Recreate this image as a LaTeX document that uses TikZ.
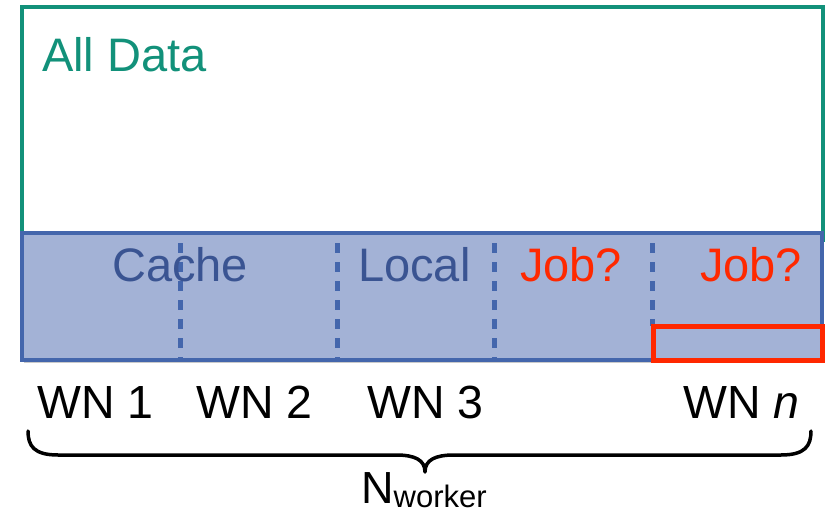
\documentclass[tikz,border=0pt]{standalone}
\usepackage{fontspec}
\setmainfont{Liberation Sans}
\usetikzlibrary{shadows}
\definecolor{teal1}{RGB}{18,145,122}
\definecolor{bandfill}{RGB}{163,178,214}
\definecolor{bandline}{RGB}{68,102,172}
\definecolor{bandtext}{RGB}{58,84,146}
\definecolor{jobred}{RGB}{255,40,0}
\tikzset{
  big/.style={font=\fontsize{47}{50}\selectfont, inner sep=0pt, anchor=base west},
  wn/.style={font=\fontsize{46.5}{48}\selectfont, inner sep=0pt, anchor=base west, text=black},
  divider/.style={draw=bandline, line width=5pt, dash pattern=on 10pt off 9pt},
  shad/.style={drop shadow={shadow xshift=2pt, shadow yshift=-3pt, opacity=0.35, fill=black!60}}
}
\begin{document}
\begin{tikzpicture}[x=1pt,y=-1pt]
\useasboundingbox (0,0) rectangle (827,513);
% all data box
\path[draw=teal1, line width=4pt, fill=white] (22,7) rectangle (823,240);
% band
\path[draw=bandline, fill=bandfill, line width=4.5pt, shad] (22,233) rectangle (822,360);
% dividers
\coordinate (d1t) at (180,243); \coordinate (d1b) at (180,360);
\coordinate (d2t) at (337,243); \coordinate (d2b) at (337,360);
\coordinate (d3t) at (494,243); \coordinate (d3b) at (494,360);
\coordinate (d4t) at (652,243); \coordinate (d4b) at (652,326);
\draw[divider] (d1t) -- (d1b);
\draw[divider] (d2t) -- (d2b);
\draw[divider] (d3t) -- (d3b);
\draw[divider] (d4t) -- (d4b);
% red box
\draw[draw=jobred, line width=5pt] (653,326) rectangle (822,360);
% texts
\node[big, text=teal1] (alldata) at (42,72) {All Data};
\node[big, text=bandtext] (cache) at (112,281) {Cache};
\node[big, text=bandtext] (local) at (358,281) {Local};
\node[big, text=jobred] (job1) at (520,281) {Job?};
\node[big, text=jobred] (job2) at (700,281) {Job?};
\node[wn] (wn1) at (37,418) {WN 1};
\node[wn] (wn2) at (196,418) {WN 2};
\node[wn] (wn3) at (367,418) {WN 3};
\node[wn] (wnn) at (683,418) {WN \textit{n}};
% brace
\coordinate (bl) at (28,431);
\coordinate (br) at (811,431);
\coordinate (bt) at (425,472);
\draw[line width=3.5pt, line cap=round, line join=round]
  (bl) .. controls (28,446) and (34,455) .. (58,455)
  -- (396,455) .. controls (415,455) and (425,460) .. (bt)
  .. controls (425,460) and (435,455) .. (454,455)
  -- (781,455) .. controls (805,455) and (811,446) .. (br);
\node[inner sep=0pt, anchor=base west, font=\fontsize{45}{48}\selectfont] (nw) at (361,503) {N\raisebox{-4pt}{\fontsize{31}{33}\selectfont worker}};
\end{tikzpicture}
\end{document}
